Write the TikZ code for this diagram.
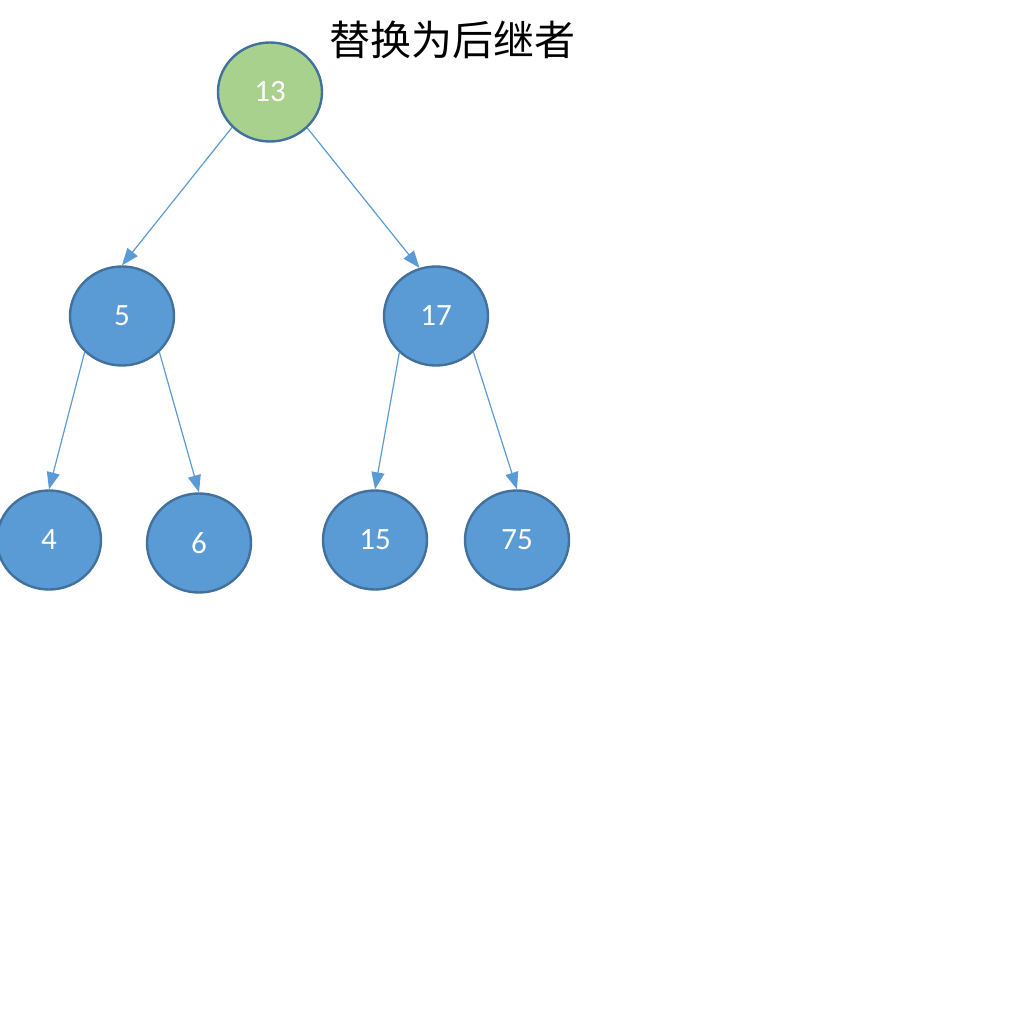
\documentclass[tikz,border=0pt]{standalone}
\usepackage{fontspec}
\setmainfont{Carlito}
\newfontfamily\cjk{Noto Sans CJK SC}
\usetikzlibrary{shapes.geometric,arrows.meta}
\definecolor{nodeblue}{HTML}{5B9BD5}
\definecolor{nodeedge}{HTML}{41719C}
\definecolor{nodegreen}{HTML}{A9D18E}
\tikzset{
  treenode/.style={ellipse, draw=nodeedge, line width=2.4pt, fill=nodeblue,
    minimum width=104pt, minimum height=99pt, inner sep=0pt,
    text=white, font=\fontsize{31}{36}\selectfont},
  rootnode/.style={treenode, fill=nodegreen},
  link/.style={draw=nodeblue, line width=1.2pt, -{Triangle[length=17pt,width=13pt]}}
}
\begin{document}
\begin{tikzpicture}[x=1pt,y=-1pt]
\useasboundingbox (0,0) rectangle (1024,1024);
\fill[white] (0,0) rectangle (1024,1024);
\node[font=\cjk\fontsize{41}{47}\selectfont] (title) at (452,40) {替换为后继者};
\node[rootnode] (n13) at (270,92) {13};
\node[treenode] (n5) at (122,316) {5};
\node[treenode] (n17) at (436,316) {17};
\node[treenode] (n4) at (49,540) {4};
\node[treenode] (n6) at (199,543) {6};
\node[treenode] (n15) at (375,540) {15};
\node[treenode] (n75) at (517,540) {75};
\draw[link] (n13.223) -- (n5.north);
\draw[link] (n13.316) -- (n17.109);
\draw[link] (n5.224) -- (n4.north);
\draw[link] (n5.316) -- (n6.north);
\draw[link] (n17.225) -- (n15.north);
\draw[link] (n17.316) -- (n75.north);
\end{tikzpicture}
\end{document}
